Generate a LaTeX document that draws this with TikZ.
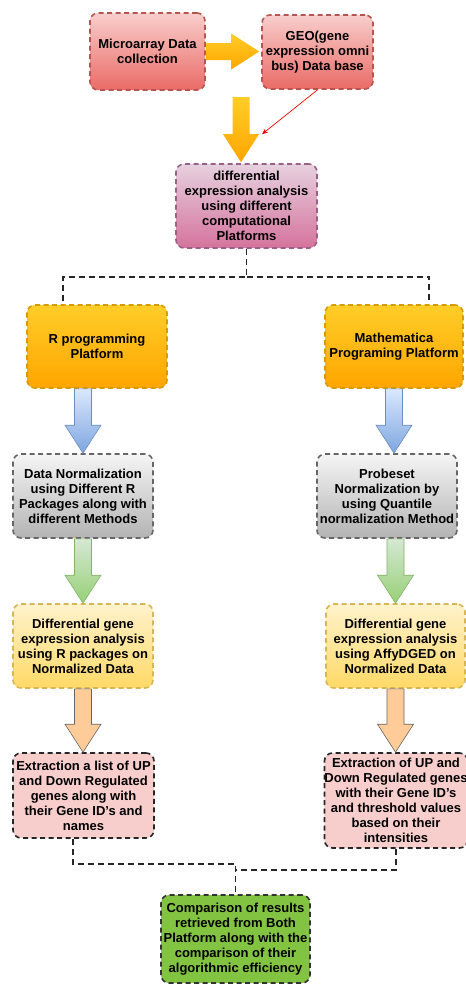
\documentclass[tikz,border=0pt]{standalone}
\usepackage{fontspec}
\setmainfont{Liberation Sans}
\usepackage{tikz}
\usetikzlibrary{arrows.meta,shapes,calc,positioning}
\definecolor{redtop}{HTML}{F8CECC}
\definecolor{redbot}{HTML}{EA6B66}
\definecolor{redline}{HTML}{B85450}
\definecolor{pinktop}{HTML}{E6D0DE}
\definecolor{pinkbot}{HTML}{D5739D}
\definecolor{pinkline}{HTML}{996185}
\definecolor{orgtop}{HTML}{FFCD28}
\definecolor{orgbot}{HTML}{FFA500}
\definecolor{orgline}{HTML}{D79B00}
\definecolor{greytop}{HTML}{F5F5F5}
\definecolor{greybot}{HTML}{B3B3B3}
\definecolor{greyline}{HTML}{666666}
\definecolor{yeltop}{HTML}{FFF2CC}
\definecolor{yelbot}{HTML}{FFD966}
\definecolor{yelline}{HTML}{D6B656}
\definecolor{salmon}{HTML}{F8CECC}
\definecolor{lime}{HTML}{82C341}
\definecolor{bluetop}{HTML}{DAE8FC}
\definecolor{bluebot}{HTML}{7EA6E0}
\definecolor{blueline}{HTML}{6C8EBF}
\definecolor{grntop}{HTML}{D5E8D4}
\definecolor{grnbot}{HTML}{97D077}
\definecolor{grnline}{HTML}{82B366}
\definecolor{peach}{HTML}{FFCC99}
\tikzstyle{box}=[rounded corners=8pt, dash pattern=on 5pt off 3.5pt,
                line width=1.6pt, align=center, inner xsep=0pt, text=black,
                font=\fontsize{13}{15}\selectfont\bfseries]
\tikzstyle{redbox}=[box, draw=redline, top color=redtop, bottom color=redbot]
\tikzstyle{pinkbox}=[box, draw=pinkline, top color=pinktop, bottom color=pinkbot]
\tikzstyle{orgbox}=[box, draw=orgline, top color=orgtop, bottom color=orgbot]
\tikzstyle{greybox}=[box, draw=greyline, top color=greytop, bottom color=greybot]
\tikzstyle{yelbox}=[box, draw=yelline, top color=yeltop, bottom color=yelbot]
\tikzstyle{salbox}=[box, draw=black!85, fill=salmon]
\tikzstyle{limebox}=[box, draw=black!80, fill=lime]
\tikzstyle{conn}=[draw=black!85, line width=1.7pt, dash pattern=on 6pt off 4pt]
\tikzstyle{fatorg}=[top color=orgtop, bottom color=orgbot]
\tikzstyle{fatblue}=[top color=bluetop, bottom color=bluebot, draw=blueline, line width=0.6pt]
\tikzstyle{fatgrn}=[top color=grntop, bottom color=grnbot, draw=grnline, line width=0.6pt]
\tikzstyle{fatpeach}=[fill=peach, draw=greyline, line width=0.6pt]
% block arrow: style, from, to
\newcommand{\fatarrow}[3]{%
  \coordinate (fah) at ($(#3)!28pt!(#2)$);
  \path[#1] ($(#2)!8.5pt!90:(#3)$) -- ($(fah)!8.5pt!90:(#3)$)
    -- ($(fah)!18pt!90:(#3)$) -- (#3) -- ($(fah)!18pt!-90:(#3)$)
    -- ($(fah)!8.5pt!-90:(#3)$) -- ($(#2)!8.5pt!-90:(#3)$) -- cycle;}
\begin{document}
\begin{tikzpicture}[x=1pt, y=-1pt]
    \useasboundingbox (0,0) rectangle (466,986);
    \fill[white] (0,0) rectangle (466,986);
    \node[redbox, minimum width=115pt, minimum height=77pt] (micro) at (147.5,51.5) {Microarray Data\\collection};
    \node[redbox, minimum width=111pt, minimum height=74pt] (geo) at (317.5,52) {GEO(gene\\expression omni\\bus) Data base};
    \node[pinkbox, minimum width=141pt, minimum height=84pt] (diff) at (246.5,206) {differential\\expression analysis\\using different\\computational\\Platforms};
    \node[orgbox, minimum width=140pt, minimum height=83pt] (rprog) at (97,346.5) {R programming\\Platform};
    \node[orgbox, minimum width=138pt, minimum height=83pt] (math) at (394,346.5) {Mathematica\\Programing Platform};
    \node[greybox, minimum width=140pt, minimum height=84pt] (norm) at (83,496) {Data Normalization\\using Different R\\Packages along with\\different Methods};
    \node[greybox, minimum width=140pt, minimum height=84pt] (probe) at (387,496) {Probeset\\Normalization by\\using Quantile\\normalization Method};
    \node[yelbox, minimum width=140pt, minimum height=84pt] (rdge) at (83,646) {Differential gene\\expression analysis\\using R packages on\\Normalized Data};
    \node[yelbox, minimum width=139pt, minimum height=84pt] (affy) at (395.5,646) {Differential gene\\expression analysis\\using AffyDGED on\\Normalized Data};
    \node[salbox, minimum width=141pt, minimum height=85pt] (extr) at (83.5,795.5) {Extraction a list of UP\\and Down Regulated\\genes along with\\their Gene ID's and\\names};
    \node[salbox, minimum width=142pt, minimum height=95pt] (exmath) at (396,800.5) {Extraction of UP and\\Down Regulated genes\\with their Gene ID's\\and threshold values\\based on their\\intensities};
    \node[limebox, minimum width=149pt, minimum height=88pt] (comp) at (235.5,939) {Comparison of results\\retrieved from Both\\Platform along with the\\comparison of their\\algorithmic efficiency};

    \coordinate (he0) at (micro.east -| geo.west);
    \coordinate (he) at ($(he0)+(-2,0)$);
    \coordinate (de) at ($(diff.north)+(-5.5,-1)$);
    \coordinate (ds) at ($(de)+(0,-65)$);
    \coordinate (b1s) at (rprog.south -| norm.north);
    \coordinate (b2e) at (math.south |- probe.north);
    \coordinate (g2s) at (probe.south -| affy.north);
    \coordinate (p1e) at (rdge.south |- extr.north);
    \coordinate (p2e) at (affy.south |- exmath.north);
    \fatarrow{fatorg}{micro.east}{he}
    \fatarrow{fatorg}{ds}{de}
    \fatarrow{fatblue}{b1s}{norm.north}
    \fatarrow{fatblue}{math.south}{b2e}
    \fatarrow{fatgrn}{norm.south}{rdge.north}
    \fatarrow{fatgrn}{g2s}{affy.north}
    \fatarrow{fatpeach}{rdge.south}{p1e}
    \fatarrow{fatpeach}{affy.south}{p2e}

    \coordinate (rt) at ($(de)+(21,-28)$);
    \draw[red, line width=0.7pt, -{Stealth[length=6pt,width=5pt]}] (geo.south) -- (rt);

    \coordinate (split) at ($(diff.south)+(0,28)$);
    \coordinate (rtop) at ($(rprog.north)+(-34,0)$);
    \coordinate (mtop) at ($(math.north)+(35,0)$);
    \draw[conn] (diff.south) -- (split) -| (rtop);
    \draw[conn] (split) -| (mtop);
    \coordinate (lj) at ($(comp.north)+(0,-30)$);
    \coordinate (rj) at ($(comp.north)+(0,-24)$);
    \draw[conn] ($(extr.south)+(-10.5,0)$) |- (lj) -- (comp.north);
    \draw[conn] (exmath.south) |- (rj);
\end{tikzpicture}
\end{document}
